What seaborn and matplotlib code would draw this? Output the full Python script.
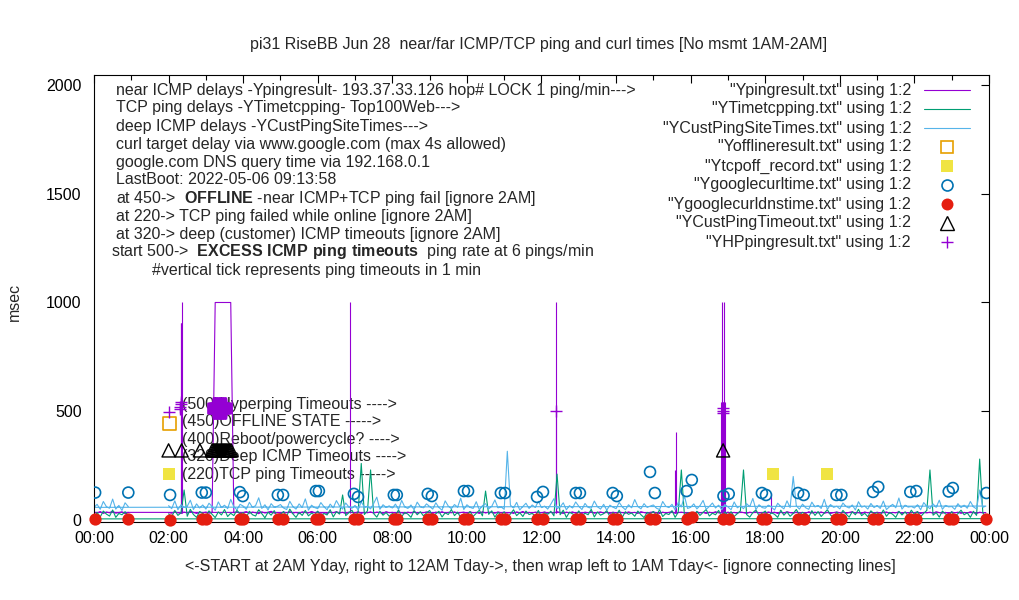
import numpy as np
import pandas as pd
import matplotlib
matplotlib.use("Agg")
import matplotlib.pyplot as plt
from matplotlib.lines import Line2D
import seaborn as sns

sns.set_style("white", {"axes.edgecolor": "black",
                        "xtick.direction": "in", "ytick.direction": "in"})
plt.rcParams["font.family"] = ["Liberation Sans", "DejaVu Sans"]
plt.rcParams["mathtext.fontset"] = "custom"
plt.rcParams["mathtext.rm"] = "Liberation Sans"
plt.rcParams["mathtext.bf"] = "Liberation Sans:bold"

FS = 11.5
PURPLE, GREEN, CYAN = "#9400d3", "#009e73", "#56b4e9"
ORANGE, YELLOW, BLUE, RED = "#e69f00", "#f0e442", "#0072b2", "#e51e10"

TITLE = "pi31 RiseBB Jun 28  near/far ICMP/TCP ping and curl times [No msmt 1AM-2AM]"
XLABEL = ("<-START at 2AM Yday, right to 12AM Tday->, then wrap left to 1AM Tday<- "
          "[ignore connecting lines]")
HOUR_TICKS = list(range(0, 25, 2))
HOUR_LABELS = ["00:00", "02:00", "04:00", "06:00", "08:00", "10:00", "12:00",
               "14:00", "16:00", "18:00", "20:00", "22:00", "00:00"]

# 5 minute samples: first row is 00:00-00:55, then one row per hour 02..23
SAMPLE_HOURS = [0] + list(range(2, 24))

PING_MS = [
    35, 32, 38, 30, 36, 33, 40, 31, 34, 37, 29, 35,
    34, 31, 37, 33, 30, 36, 32, 39, 35, 30, 34, 33,
    36, 31, 35, 1000, 1000, 1000, 1000, 1000, 1000, 33, 37, 30,
    34, 38, 31, 36, 33, 29, 37, 32, 35, 40, 31, 34,
    30, 36, 33, 38, 31, 35, 29, 37, 34, 32, 39, 33,
    37, 31, 34, 30, 36, 33, 38, 32, 35, 29, 36, 34,
    32, 38, 30, 35, 33, 37, 31, 36, 34, 30, 38, 33,
    35, 31, 37, 33, 29, 36, 32, 38, 31, 35, 33, 37,
    34, 30, 36, 32, 38, 31, 35, 33, 37, 30, 34, 36,
    31, 37, 33, 35, 30, 38, 32, 36, 34, 31, 37, 33,
    36, 32, 34, 30, 37, 33, 39, 31, 35, 32, 36, 34,
    33, 37, 31, 35, 32, 38, 34, 30, 36, 33, 37, 31,
    35, 30, 36, 33, 38, 31, 34, 37, 32, 35, 30, 36,
    32, 36, 34, 31, 37, 33, 35, 30, 38, 34, 31, 35,
    37, 33, 30, 36, 32, 35, 38, 31, 34, 36, 33, 30,
    34, 31, 37, 33, 35, 30, 36, 32, 38, 33, 35, 31,
    36, 32, 35, 31, 37, 34, 30, 36, 33, 38, 32, 35,
    31, 37, 33, 36, 30, 35, 32, 38, 34, 31, 36, 33,
    35, 30, 38, 32, 36, 33, 37, 31, 35, 30, 34, 37,
    33, 36, 31, 35, 38, 32, 34, 30, 37, 33, 36, 31,
    36, 32, 34, 37, 31, 35, 33, 38, 30, 36, 32, 35,
    34, 37, 30, 35, 33, 36, 31, 38, 34, 32, 35, 30,
    37, 33, 36, 31, 35, 32, 38, 34, 30, 36, 33, 34,
]

TCP_MS = [
    5, 35, 14, 41, 27, 18, 46, 12, 30, 24, 38, 20,
    28, 15, 44, 21, 33, 138, 17, 49, 25, 12, 39, 30,
    19, 42, 26, 11, 37, 23, 48, 16, 31, 20, 45, 27,
    34, 13, 40, 24, 18, 47, 29, 10, 36, 22, 43, 15,
    26, 39, 17, 50, 28, 12, 35, 21, 44, 19, 31, 24,
    41, 16, 30, 23, 47, 14, 38, 27, 115, 20, 33, 45,
    18, 36, 260, 25, 42, 230, 29, 13, 40, 22, 34, 17,
    30, 21, 46, 15, 35, 27, 12, 43, 24, 38, 19, 32,
    44, 17, 29, 40, 14, 33, 25, 48, 20, 36, 11, 28,
    23, 39, 16, 31, 45, 19, 133, 26, 42, 13, 35, 22,
    37, 12, 28, 47, 20, 34, 16, 41, 25, 30, 18, 44,
    15, 33, 26, 40, 19, 211, 24, 45, 12, 36, 28, 21,
    42, 18, 31, 24, 49, 14, 37, 22, 29, 43, 16, 34,
    20, 45, 13, 38, 26, 32, 17, 41, 24, 11, 35, 28,
    39, 22, 47, 16, 30, 25, 43, 12, 36, 230, 19, 33,
    27, 14, 40, 21, 35, 48, 18, 31, 24, 44, 15, 37,
    23, 38, 16, 29, 42, 230, 25, 13, 34, 46, 20, 31,
    41, 19, 33, 26, 12, 45, 22, 37, 17, 30, 48, 24,
    35, 28, 14, 43, 21, 39, 16, 32, 47, 23, 11, 36,
    18, 44, 27, 13, 38, 24, 49, 20, 31, 15, 42, 29,
    33, 21, 46, 17, 35, 26, 12, 40, 23, 37, 19, 45,
    26, 39, 15, 31, 44, 230, 22, 34, 13, 41, 28, 20,
    38, 17, 29, 45, 24, 33, 12, 40, 21, 280, 35, 6,
]

CUST_MS = [
    58, 72, 49, 85, 61, 54, 96, 50, 67, 44, 79, 62,
    66, 52, 88, 47, 70, 58, 63, 91, 48, 74, 55, 69,
    50, 77, 62, 45, 83, 57, 68, 52, 95, 60, 47, 72,
    64, 49, 81, 58, 66, 102, 53, 70, 46, 75, 59, 63,
    71, 55, 48, 86, 62, 50, 74, 58, 97, 45, 68, 57,
    52, 80, 61, 47, 73, 56, 89, 64, 50, 78, 60, 54,
    67, 46, 84, 59, 63, 51, 76, 105, 49, 70, 58, 65,
    55, 73, 48, 90, 60, 53, 69, 47, 82, 61, 56, 74,
    62, 50, 79, 57, 45, 88, 64, 52, 71, 59, 100, 48,
    70, 58, 53, 84, 47, 66, 75, 51, 63, 92, 56, 60,
    49, 316, 68, 55, 81, 46, 62, 77, 53, 69, 58, 86,
    57, 64, 50, 73, 98, 52, 60, 79, 47, 66, 55, 83,
    63, 48, 76, 58, 54, 87, 61, 50, 72, 45, 68, 59,
    52, 81, 60, 47, 70, 56, 94, 62, 51, 75, 58, 64,
    69, 54, 48, 85, 63, 57, 72, 46, 80, 60, 110, 53,
    58, 74, 51, 66, 90, 49, 62, 78, 55, 68, 47, 71,
    60, 47, 83, 56, 64, 52, 75, 61, 99, 48, 70, 57,
    54, 68, 59, 46, 77, 62, 51, 88, 57, 200, 65, 50,
    73, 56, 49, 82, 60, 67, 53, 95, 48, 71, 58, 63,
    51, 78, 62, 55, 69, 46, 84, 59, 64, 50, 76, 57,
    66, 53, 87, 48, 61, 72, 56, 101, 50, 68, 59, 62,
    55, 70, 47, 80, 63, 52, 74, 58, 91, 49, 67, 60,
    62, 49, 75, 57, 68, 54, 85, 60, 51, 138, 58, 64,
]

# single-minute ping timeouts (hour, msec)
SPIKE_HOURS = [2.32, 2.325, 2.36, 6.86, 12.39, 12.40, 15.58, 15.60,
               16.81, 16.83, 16.85, 16.87, 16.89, 16.91, 16.85, 16.89, 18.16]
SPIKE_MS = [905, 905, 1000, 1000, 1000, 520, 230, 405,
            544, 544, 544, 544, 544, 544, 1000, 1000, 125]

HP_HOURS = [2.01, 2.31, 2.31, 2.32, 2.32, 12.39, 16.86, 16.86, 16.86]
HP_MS = [495, 510, 521, 532, 541, 500, 491, 503, 515]
# 03:10-03:40 outage: hyperping timeouts stacked every minute
HP_BOX_HOURS = [3.19, 3.20, 3.21, 3.22, 3.23, 3.24, 3.25, 3.26, 3.27, 3.28,
                3.29, 3.30, 3.31, 3.32, 3.33, 3.34, 3.35, 3.36, 3.37, 3.38,
                3.39, 3.40, 3.41, 3.42, 3.43, 3.44, 3.45, 3.46, 3.47, 3.48,
                3.49, 3.50, 3.51, 3.52, 3.53]
HP_BOX_MS = [490, 495, 500, 505, 510, 515, 520, 525, 530, 535, 540]

CUSTTO_HOURS = [2.00, 2.35, 2.84, 3.17, 3.20, 3.23, 3.26, 3.29, 3.32, 3.35, 3.38,
                3.41, 3.44, 3.47, 3.50, 3.53, 3.56, 3.59, 3.62, 3.65, 3.68, 16.87]
CUSTTO_MS = [320] * len(CUSTTO_HOURS)

OFFLINE_HOURS = [2.02]
OFFLINE_MS = [445]
TCPOFF_HOURS = [2.02, 18.20, 19.65]
TCPOFF_MS = [210, 210, 210]

CURL_HOURS = [0.03, 0.92, 2.04, 2.89, 3.00, 3.91, 3.99, 4.93, 5.07, 5.95, 6.03,
              6.97, 7.08, 8.04, 8.12, 8.95, 9.06, 9.92, 10.03, 10.91, 11.02,
              11.88, 12.04, 12.92, 13.03, 13.91, 14.02, 14.91, 15.04, 15.89, 16.03,
              16.88, 17.02, 17.91, 18.02, 18.88, 19.03, 19.91, 20.04, 20.89, 21.03,
              21.89, 22.05, 22.92, 23.03, 23.93]
CURL_MS = [126, 126, 115, 126, 126, 128, 110, 115, 115, 133, 133,
           120, 106, 115, 115, 120, 110, 133, 133, 124, 124,
           106, 129, 124, 124, 124, 110, 221, 124, 133, 184,
           110, 120, 124, 115, 124, 115, 115, 115, 129, 152,
           129, 133, 131, 147, 124]
DNS_MS = [3, 3, 1, 4, 4, 4, 5, 3, 4, 4, 5,
          4, 3, 5, 4, 4, 3, 5, 4, 4, 5,
          4, 5, 4, 3, 5, 4, 4, 5, 4, 12,
          4, 5, 4, 5, 4, 5, 4, 5, 4, 5,
          4, 5, 4, 5, 3]

MID_LABELS = ["(500)Hyperping Timeouts ---->", "(450)OFFLINE STATE ----->",
              "(400)Reboot/powercycle? ---->", "(320)Deep ICMP Timeouts ---->",
              "(220)TCP ping Timeouts ----->"]
MID_LABEL_MS = [533, 455, 372, 291, 207]
MID_LABEL_HOUR = 2.36

NOTES = [
    "near ICMP delays -Ypingresult- 193.37.33.126 hop# LOCK 1 ping/min--->",
    "TCP ping delays -YTimetcpping- Top100Web--->",
    "deep ICMP delays -YCustPingSiteTimes--->",
    "curl target delay via www.google.com (max 4s allowed)",
    "google.com DNS query time via 192.168.0.1",
    "LastBoot: 2022-05-06 09:13:58",
    r"at 450->  $\bf{OFFLINE}$ -near ICMP+TCP ping fail [ignore 2AM]",
    "at 220-> TCP ping failed while online [ignore 2AM]",
    "at 320-> deep (customer) ICMP timeouts [ignore 2AM]",
    r"start 500->  $\bf{EXCESS\ ICMP\ ping\ timeouts}$  ping rate at 6 pings/min",
    "#vertical tick represents ping timeouts in 1 min",
]
NOTE_X = [116, 116, 116, 116, 116, 116, 116, 116, 116, 111, 152]

LEGEND = ['"Ypingresult.txt" using 1:2', '"YTimetcpping.txt" using 1:2',
          '"YCustPingSiteTimes.txt" using 1:2', '"Yofflineresult.txt" using 1:2',
          '"Ytcpoff_record.txt" using 1:2', '"Ygooglecurltime.txt" using 1:2',
          '"Ygooglecurldnstime.txt" using 1:2', '"YCustPingTimeout.txt" using 1:2',
          '"YHPpingresult.txt" using 1:2']

# samples in logging order: 02:00 -> 23:55 then wrap to 00:00 -> 00:55
hours = [h + m / 60 for h in SAMPLE_HOURS for m in range(0, 60, 5)]
df = pd.DataFrame({"hour": hours, "ping": PING_MS, "tcp": TCP_MS, "cust": CUST_MS})
df = pd.concat([df.iloc[12:], df.iloc[:12]], ignore_index=True)

box = pd.DataFrame([(h, v) for h in HP_BOX_HOURS for v in HP_BOX_MS], columns=["hour", "ms"])
hp = pd.concat([pd.DataFrame({"hour": HP_HOURS, "ms": HP_MS}), box], ignore_index=True)

fig = plt.figure(figsize=(10.2, 6), dpi=100)
ax = fig.add_axes([94 / 1020, 1 - 521.5 / 600, 895 / 1020, 446.5 / 600])

lw = 0.8
ax.vlines(SPIKE_HOURS, 30, SPIKE_MS, color=PURPLE, lw=lw, zorder=2)
sns.lineplot(data=df, x="hour", y="ping", sort=False, estimator=None,
             color=PURPLE, lw=lw, ax=ax, zorder=2)
sns.lineplot(data=df, x="hour", y="tcp", sort=False, estimator=None,
             color=GREEN, lw=lw, ax=ax, zorder=2.1)
sns.lineplot(data=df, x="hour", y="cust", sort=False, estimator=None,
             color=CYAN, lw=lw, ax=ax, zorder=2.2)

for txt, v in zip(MID_LABELS, MID_LABEL_MS):
    ax.text(MID_LABEL_HOUR, v, txt, fontsize=FS, va="center", ha="left", zorder=1.5)

sns.scatterplot(x=OFFLINE_HOURS, y=OFFLINE_MS, marker="s", s=85, facecolor="none",
                edgecolor=ORANGE, linewidth=1.2, ax=ax, zorder=3)
sns.scatterplot(x=TCPOFF_HOURS, y=TCPOFF_MS, marker="s", s=85, color=YELLOW,
                edgecolor=YELLOW, linewidth=0, ax=ax, zorder=3.1)
sns.scatterplot(x=CURL_HOURS, y=CURL_MS, marker="o", s=62, facecolor="none",
                edgecolor=BLUE, linewidth=1.2, ax=ax, zorder=3.2)
sns.scatterplot(x=CURL_HOURS, y=DNS_MS, marker="o", s=78, color=RED,
                edgecolor=RED, linewidth=0, ax=ax, zorder=3.3, clip_on=False)
sns.scatterplot(x=CUSTTO_HOURS, y=CUSTTO_MS, marker="^", s=90, facecolor="none",
                edgecolor="black", linewidth=1.0, ax=ax, zorder=3.4)
# overlapping triangles in the 03:10-03:40 outage look filled, as in gnuplot
sns.scatterplot(data=hp, x="hour", y="ms", marker="+", s=85, color=PURPLE,
                linewidth=1.0, ax=ax, zorder=3.5)

ax.set_xlim(0, 24)
ax.set_ylim(-7, 2046)
ax.set_xticks(HOUR_TICKS)
ax.set_xticklabels(HOUR_LABELS)
ax.set_xticks(range(1, 24, 2), minor=True)
ax.set_yticks([0, 500, 1000, 1500, 2000])
ax.tick_params(axis="both", which="both", direction="in", top=True, right=True,
               labelsize=FS, colors="black", width=0.8)
ax.tick_params(axis="both", which="major", length=6)
ax.tick_params(axis="both", which="minor", length=3.5)
ax.tick_params(axis="x", pad=7)
ax.tick_params(axis="y", pad=9)
ax.set_xlabel("")
ax.set_ylabel("")
for sp in ax.spines.values():
    sp.set_linewidth(0.8)
    sp.set_color("black")

fig.text(539 / 1020, 1 - 44 / 600, TITLE, ha="center", va="center", fontsize=FS)
fig.text(540 / 1020, 1 - 567 / 600, XLABEL, ha="center", va="center", fontsize=FS)
fig.text(14 / 1020, 1 - 302 / 600, "msec", ha="center", va="center",
         rotation=90, fontsize=FS)

for i, (txt, x) in enumerate(zip(NOTES, NOTE_X)):
    fig.text(x / 1020, 1 - (90 + 18 * i) / 600, txt, ha="left", va="center", fontsize=FS)

# gnuplot style key: right aligned text, sample to the right
styles = [
    dict(color=PURPLE, lw=lw), dict(color=GREEN, lw=lw), dict(color=CYAN, lw=lw),
    dict(marker="s", ms=9.2, mfc="none", mec=ORANGE, mew=1.2),
    dict(marker="s", ms=9.2, mfc=YELLOW, mec=YELLOW, mew=0),
    dict(marker="o", ms=7.9, mfc="none", mec=BLUE, mew=1.2),
    dict(marker="o", ms=8.6, mfc=RED, mec=RED, mew=0),
    dict(marker="^", ms=9.5, mfc="none", mec="black", mew=1.0),
    dict(marker="+", ms=9.2, mec=PURPLE, mew=1.0),
]
for i, (txt, st) in enumerate(zip(LEGEND, styles)):
    yy = 1 - (90 + 19 * i) / 600
    fig.text(911 / 1020, yy, txt, ha="right", va="center", fontsize=FS)
    if "marker" in st:
        fig.add_artist(Line2D([947 / 1020], [yy], ls="none", **st))
    else:
        fig.add_artist(Line2D([924 / 1020, 970 / 1020], [yy, yy], **st))

fig.savefig("out.png", dpi=100)
